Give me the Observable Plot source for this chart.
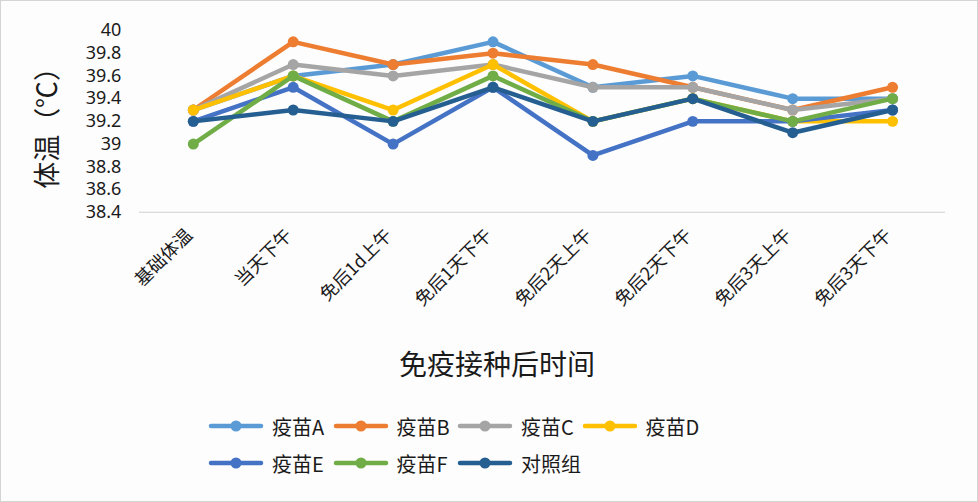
<!DOCTYPE html>
<html>
<head>
<meta charset="utf-8">
<script src="https://cdn.jsdelivr.net/npm/d3@7"></script>
<script src="https://cdn.jsdelivr.net/npm/@observablehq/plot@0.6"></script>
<style>
  html, body { margin: 0; padding: 0; background: #fdfdfd; }
  #wrap { position: relative; width: 978px; height: 502px; box-sizing: border-box; border: 1px solid #d4d4d4; background: #fdfdfd; overflow: hidden; font-family: "Noto Sans CJK SC", "Noto Sans", sans-serif; color: #1a1a1a; }
  #chart { position: absolute; left: -1px; top: -1px; }
  #xtitle { position: absolute; top: 342px; left: 398px; font-size: 28px; line-height: 40px; white-space: nowrap; }
  .leg { position: absolute; display: flex; align-items: center; font-size: 20px; white-space: nowrap; height: 30px; }
  .leg svg { margin-right: 8px; }
</style>
</head>
<body>
<div id="wrap">
  <div id="chart"></div>
  <div id="xtitle">免疫接种后时间</div>
  <div id="legend"></div>
</div>
<script>
const categories = ["基础体温", "当天下午", "免后1d上午", "免后1天下午", "免后2天上午", "免后2天下午", "免后3天上午", "免后3天下午"];
const seriesNames = ["疫苗A", "疫苗B", "疫苗C", "疫苗D", "疫苗E", "疫苗F", "对照组"];
const vaccineA = [39.3, 39.6, 39.7, 39.9, 39.5, 39.6, 39.4, 39.4];
const vaccineB = [39.3, 39.9, 39.7, 39.8, 39.7, 39.5, 39.3, 39.5];
const vaccineC = [39.3, 39.7, 39.6, 39.7, 39.5, 39.5, 39.3, 39.4];
const vaccineD = [39.3, 39.6, 39.3, 39.7, 39.2, 39.4, 39.2, 39.2];
const vaccineE = [39.2, 39.5, 39.0, 39.5, 38.9, 39.2, 39.2, 39.3];
const vaccineF = [39.0, 39.6, 39.2, 39.6, 39.2, 39.4, 39.2, 39.4];
const control  = [39.2, 39.3, 39.2, 39.5, 39.2, 39.4, 39.1, 39.3];
const yTicks = [38.4, 38.6, 38.8, 39, 39.2, 39.4, 39.6, 39.8, 40];

const seriesValues = [vaccineA, vaccineB, vaccineC, vaccineD, vaccineE, vaccineF, control];
const colors = ["#5B9BD5", "#ED7D31", "#A5A5A5", "#FFC000", "#4472C4", "#70AD47", "#255E91"];

const data = seriesNames.flatMap((s, i) =>
  seriesValues[i].map((v, j) => ({series: s, time: categories[j], temp: v}))
);

const seriesMarks = seriesNames.flatMap(s => {
  const d = data.filter(r => r.series === s);
  return [
    Plot.line(d, {x: "time", y: "temp", stroke: "series", strokeWidth: 4.5, strokeLinejoin: "round", strokeLinecap: "round"}),
    Plot.dot(d, {x: "time", y: "temp", fill: "series", r: 5.5})
  ];
});

const chart = Plot.plot({
  width: 978,
  height: 340,
  marginTop: 30,
  marginBottom: 128,
  marginLeft: 139,
  marginRight: 32,
  style: {background: "transparent", fontFamily: "'Noto Sans CJK SC', 'Noto Sans', sans-serif", color: "#1a1a1a", overflow: "visible"},
  x: {type: "point", domain: categories, padding: 0.5, label: null},
  y: {domain: [38.4, 40], label: null},
  color: {domain: seriesNames, range: colors},
  marks: [
    Plot.ruleY([38.4], {stroke: "#d0d0d0", strokeWidth: 1.2}),
    Plot.axisY({ticks: yTicks, tickSize: 0, tickPadding: 18, fontSize: 18, tickFormat: d => String(+d.toFixed(1)), label: null, fontFamily: "'Noto Sans', sans-serif"}),
    Plot.axisX({tickRotate: -45, tickSize: 0, tickPadding: 20, fontSize: 18, label: null, dx: -4}),
    ...seriesMarks,
    Plot.text(["体温（℃）"], {text: d => d, frameAnchor: "left", textAnchor: "middle", dx: -91, dy: 0, rotate: -90, fontSize: 27, fill: "#1a1a1a"})
  ]
});
document.getElementById("chart").appendChild(chart);

// legend
const legend = document.getElementById("legend");
seriesNames.forEach((s, i) => {
  const col = i % 4, row = Math.floor(i / 4);
  const item = document.createElement("div");
  item.className = "leg";
  item.style.left = (207 + col * 124.5) + "px";
  item.style.top = (410 + row * 37) + "px";
  item.innerHTML = `<svg width="56" height="14"><line x1="3" y1="7" x2="53" y2="7" stroke="${colors[i]}" stroke-width="4.5" stroke-linecap="round"/><circle cx="28" cy="7" r="5.5" fill="${colors[i]}"/></svg><span>${s}</span>`;
  legend.appendChild(item);
});
</script>
</body>
</html>
